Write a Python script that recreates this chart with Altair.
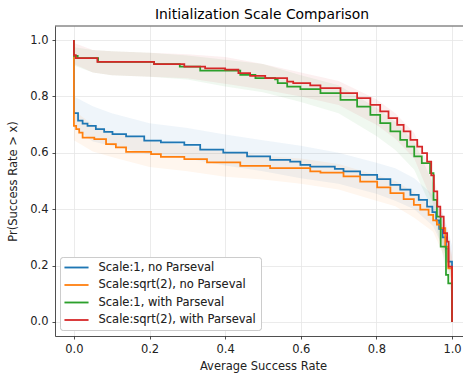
import altair as alt
import pandas as pd

FONT = "DejaVu Sans"
W, H = 408, 310

SERIES = [
    "Scale:1, no Parseval",
    "Scale:sqrt(2), no Parseval",
    "Scale:1, with Parseval",
    "Scale:sqrt(2), with Parseval",
]
COLORS = ["#1f77b4", "#ff7f0e", "#2ca02c", "#d62728"]

# Survival curves: Pr(success rate > x), drawn as post-steps
blue_x = [0.0, 0.0, 0.011, 0.023, 0.036, 0.058, 0.080, 0.102, 0.138, 0.186, 0.230, 0.292,
          0.334, 0.395, 0.458, 0.519, 0.572, 0.599, 0.625, 0.690, 0.713, 0.757, 0.802, 0.837,
          0.863, 0.890, 0.912, 0.934, 0.948, 0.958, 0.966, 0.975, 0.984, 0.990, 1.0]
blue_y = [1.0, 0.741, 0.714, 0.704, 0.696, 0.684, 0.674, 0.666, 0.658, 0.643, 0.637, 0.628,
          0.611, 0.601, 0.587, 0.575, 0.569, 0.557, 0.551, 0.543, 0.534, 0.522, 0.507, 0.486,
          0.469, 0.451, 0.433, 0.409, 0.390, 0.360, 0.330, 0.300, 0.260, 0.214, 0.0]

orange_x = [0.0, 0.0, 0.006, 0.014, 0.023, 0.054, 0.085, 0.111, 0.138, 0.204, 0.230, 0.292,
            0.352, 0.440, 0.519, 0.625, 0.652, 0.713, 0.757, 0.802, 0.837, 0.872, 0.899, 0.916,
            0.938, 0.950, 0.960, 0.969, 0.982, 0.990, 1.0]
orange_y = [1.0, 0.696, 0.684, 0.672, 0.654, 0.649, 0.631, 0.619, 0.603, 0.595, 0.586, 0.578,
            0.566, 0.554, 0.546, 0.534, 0.530, 0.516, 0.498, 0.477, 0.457, 0.436, 0.415, 0.398,
            0.380, 0.360, 0.345, 0.333, 0.267, 0.190, 0.0]

green_x = [0.0, 0.0, 0.010, 0.064, 0.212, 0.280, 0.334, 0.440, 0.480, 0.532, 0.539, 0.564,
           0.599, 0.652, 0.705, 0.749, 0.784, 0.810, 0.837, 0.863, 0.881, 0.900, 0.920, 0.942,
           0.951, 0.960, 0.970, 0.984, 0.990, 1.0]
green_y = [1.0, 0.944, 0.936, 0.923, 0.915, 0.906, 0.892, 0.877, 0.865, 0.861, 0.847, 0.835,
           0.826, 0.812, 0.788, 0.764, 0.735, 0.705, 0.676, 0.646, 0.622, 0.587, 0.563, 0.528,
           0.433, 0.374, 0.267, 0.167, 0.137, 0.0]

red_x = [0.0, 0.0, 0.005, 0.062, 0.212, 0.292, 0.347, 0.400, 0.435, 0.466, 0.506, 0.564,
         0.580, 0.625, 0.652, 0.705, 0.749, 0.784, 0.810, 0.832, 0.855, 0.872, 0.890, 0.908,
         0.921, 0.934, 0.945, 0.952, 0.961, 0.969, 0.978, 0.987, 0.991, 1.0]
red_y = [1.0, 0.947, 0.936, 0.923, 0.915, 0.906, 0.900, 0.895, 0.883, 0.873, 0.865, 0.853,
         0.847, 0.839, 0.830, 0.812, 0.794, 0.770, 0.747, 0.723, 0.699, 0.676, 0.646, 0.622,
         0.599, 0.569, 0.520, 0.463, 0.409, 0.374, 0.315, 0.285, 0.196, 0.0]

# Confidence bands
band_x = [0.0, 0.05, 0.1, 0.2, 0.3, 0.4, 0.5, 0.6, 0.7, 0.8, 0.85, 0.9, 0.95, 0.98, 1.0]
blue_lo = [0.69, 0.64, 0.625, 0.595, 0.58, 0.555, 0.535, 0.51, 0.49, 0.455, 0.43, 0.40, 0.34, 0.25, 0.16]
blue_hi = [0.80, 0.765, 0.74, 0.705, 0.688, 0.665, 0.645, 0.625, 0.60, 0.565, 0.545, 0.51, 0.45, 0.37, 0.27]
orange_lo = [0.645, 0.605, 0.585, 0.55, 0.535, 0.515, 0.505, 0.49, 0.47, 0.43, 0.41, 0.37, 0.32, 0.23, 0.14]
orange_hi = [0.75, 0.70, 0.675, 0.645, 0.625, 0.605, 0.59, 0.58, 0.56, 0.52, 0.50, 0.46, 0.40, 0.32, 0.23]
green_lo = [0.91, 0.885, 0.875, 0.87, 0.86, 0.835, 0.815, 0.78, 0.74, 0.66, 0.61, 0.54, 0.39, 0.21, 0.09]
green_hi = [0.975, 0.965, 0.96, 0.955, 0.945, 0.93, 0.915, 0.875, 0.84, 0.76, 0.71, 0.64, 0.49, 0.31, 0.19]
red_lo = [0.915, 0.885, 0.875, 0.87, 0.865, 0.845, 0.825, 0.80, 0.77, 0.70, 0.65, 0.58, 0.42, 0.25, 0.14]
red_hi = [0.99, 0.965, 0.96, 0.955, 0.95, 0.94, 0.915, 0.885, 0.855, 0.79, 0.74, 0.67, 0.52, 0.36, 0.24]

TICKS = [0.0, 0.2, 0.4, 0.6, 0.8, 1.0]

curves = [(blue_x, blue_y), (orange_x, orange_y), (green_x, green_y), (red_x, red_y)]
bands_lohi = [(blue_lo, blue_hi), (orange_lo, orange_hi), (green_lo, green_hi), (red_lo, red_hi)]

band_rows = []
for name, (lo, hi) in zip(SERIES, bands_lohi):
    for bx, l, h in zip(band_x, lo, hi):
        band_rows.append({"x": bx, "lo": l, "hi": h, "band": name})
band_df = pd.DataFrame(band_rows)

x_scale = alt.Scale(domain=[-0.05, 1.029], nice=False, zero=False)
y_scale = alt.Scale(domain=[-0.05, 1.05], nice=False, zero=False)

x_axis = alt.Axis(values=TICKS, format=".1f", title="Average Success Rate",
                  titleX=208, titleY=30, titleAlign="center", titleBaseline="middle")
y_axis = alt.Axis(values=TICKS, format=".1f", title="Pr(Success Rate > x)",
                  titleX=-42, titleY=155, titleAlign="center", titleBaseline="middle")

legend = alt.Legend(
    title=None, orient="none", legendX=5, legendY=231,
    symbolType="M-2.4,0H2.4", symbolSize=100, symbolStrokeWidth=1.75,
    symbolOffset=6, labelOffset=16, padding=4.5, rowPadding=5.5,
    fillColor="rgba(255,255,255,0.8)", strokeColor="#cccccc", cornerRadius=3,
    labelFont=FONT, labelFontSize=11.5, labelColor="#222222", labelLimit=300,
)

bands = alt.Chart(band_df).mark_area(opacity=0.07, clip=True).encode(
    x=alt.X("x:Q", scale=x_scale, axis=x_axis),
    y=alt.Y("lo:Q", scale=y_scale, axis=y_axis),
    y2="hi:Q",
    fill=alt.Fill("band:N", scale=alt.Scale(domain=SERIES, range=COLORS), legend=None),
)

line_layers = []
for name, (xs, ys) in zip(SERIES, curves):
    df = pd.DataFrame({"x": xs, "y": ys, "series": name, "i": range(len(xs))})
    line_layers.append(
        alt.Chart(df).mark_line(interpolate="step-after", strokeWidth=1.75, clip=True).encode(
            x=alt.X("x:Q", scale=x_scale, axis=x_axis),
            y=alt.Y("y:Q", scale=y_scale, axis=y_axis),
            color=alt.Color("series:N", scale=alt.Scale(domain=SERIES, range=COLORS), legend=legend),
            order=alt.Order("i:Q"),
        )
    )

# top spine of the frame
top_spine = alt.Chart(pd.DataFrame({"k": [0]})).mark_rule(color="#222222", strokeWidth=0.8).encode(
    x=alt.value(0), x2=alt.value(W), y=alt.value(0)
)

chart = alt.layer(bands, *line_layers, top_spine).resolve_legend(
    color="independent", fill="independent"
).properties(
    width=W,
    height=H,
    title=alt.TitleParams("Initialization Scale Comparison", font=FONT, fontSize=13.9,
                          fontWeight="normal", color="#000000", anchor="middle", dx=3,
                          offset=4),
    padding={"left": 55, "top": 26, "right": 0, "bottom": 39},
    autosize=alt.AutoSizeParams(type="none"),
).configure_view(
    strokeWidth=0
).configure_axis(
    labelFont=FONT, labelFontSize=11.5, labelColor="#222222",
    titleFont=FONT, titleFontSize=11.5, titleColor="#222222", titleFontWeight="normal",
    domainColor="#222222", domainWidth=0.8,
    tickColor="#222222", tickWidth=0.8, tickSize=3, labelPadding=4,
    gridColor="#e6e6e6", gridWidth=0.8,
).configure_legend(
    strokeWidth=1
)

chart.save("out.html", embed_options={"renderer": "svg", "actions": False})
